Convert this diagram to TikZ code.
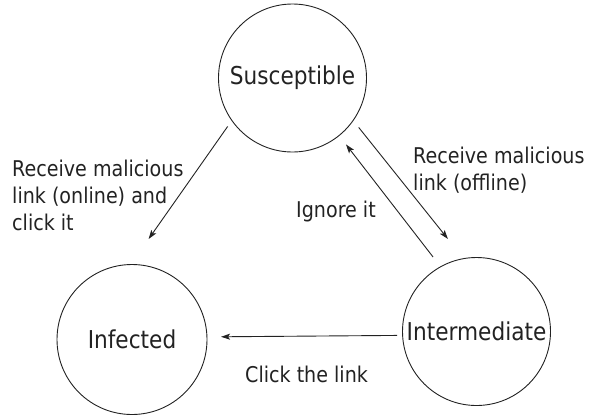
\documentclass[tikz,border=0pt]{standalone}
\usepackage{fontspec}
\setmainfont{DejaVu Sans}[FakeStretch=0.88]
\usetikzlibrary{arrows.meta}
\definecolor{ink}{HTML}{222222}
\tikzset{
  state/.style={circle, draw=ink, line width=0.9pt, minimum size=#1, inner sep=0pt, outer sep=0pt,
    text=ink, font=\fontsize{24.6}{29}\selectfont},
  lbl/.style={anchor=base west, inner sep=0pt, align=left, text=ink, font=\fontsize{21.7}{27}\selectfont},
  conn/.style={draw=ink, line width=0.9pt, -{Stealth[length=9pt,width=6pt,inset=2pt]}}
}
\begin{document}
\begin{tikzpicture}[x=1pt,y=-1pt]
\useasboundingbox (0,0) rectangle (591,416);
\node[state=148pt] (S) at (292.5,78) {Susceptible};
\node[state=150pt] (Inf) at (132,339.5) {Infected};
\node[state=148pt] (Int) at (476.5,331.5) {Intermediate};

\draw[conn, shorten <=7.35pt, shorten >=31.2pt] (S.215.5) -- (Inf.91.6);
\draw[conn, shorten <=8.95pt, shorten >=25.2pt] (S.325.5) -- (Int.100.8);
\draw[conn, shorten <=12.4pt, shorten >=11.3pt] (Int.119) -- (S.309);
\draw[conn, shorten <=5.6pt, shorten >=14.1pt] (Int.183.5) -- (Inf.2.7);

\node[lbl] (l1) at (12,230) {Receive malicious\\link (online) and\\click it};
\node[lbl] (l2) at (413,190) {Receive malicious\\link (offline)};
\node[lbl] (l3) at (296,217) {Ignore it};
\node[lbl] (l4) at (245,382) {Click the link};
\end{tikzpicture}
\end{document}
